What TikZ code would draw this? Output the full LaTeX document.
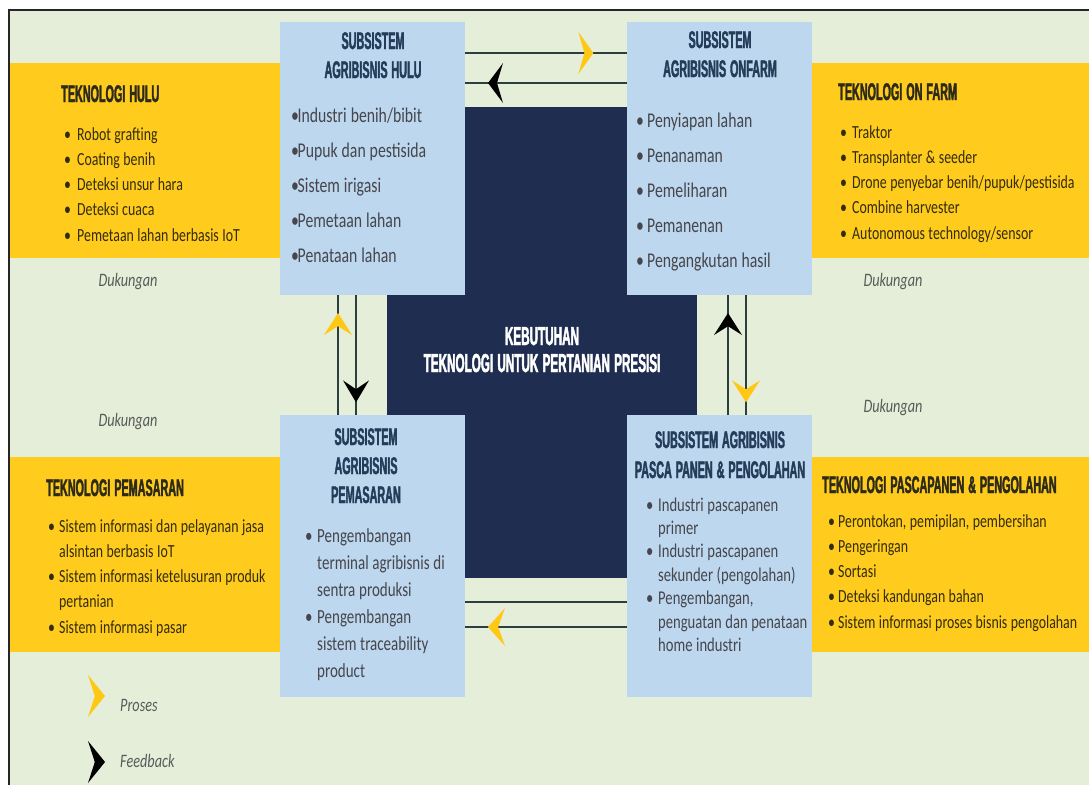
\documentclass[tikz,border=0pt]{standalone}
\usepackage{fontspec}
\setmainfont[FakeStretch=0.75,WordSpace={1.1,0,0}]{Carlito}
\newfontfamily\headfont[FakeStretch=0.45,WordSpace={1.3,0,0},BoldFeatures={FakeBold=1.6}]{Liberation Sans}
\usetikzlibrary{decorations.markings}

\definecolor{bgcol}{RGB}{229,238,217}
\definecolor{yel}{RGB}{255,204,30}
\definecolor{blu}{RGB}{189,215,238}
\definecolor{navy}{RGB}{31,45,80}
\definecolor{linecol}{RGB}{44,62,62}
\definecolor{headB}{RGB}{36,60,88}
\definecolor{headY}{RGB}{45,42,25}
\definecolor{txtB}{RGB}{70,70,76}
\definecolor{txtY}{RGB}{52,44,12}
\definecolor{dukcol}{RGB}{90,90,90}
\definecolor{procyel}{RGB}{255,200,20}

\setlength\parskip{0pt}
\setlength\parindent{0pt}
\hyphenpenalty=10000
\exhyphenpenalty=10000
\newlength\bulind
% one bullet item with a hanging indent
\newcommand\itm[1]{\hangindent=\bulind\hangafter=1\noindent\makebox[\bulind][l]{\textbullet}#1\par}
% chevron-shaped arrow mark, tip at the origin pointing along +x
\newcommand\chevron[3]{\fill[#1] (0,0) -- (-#2,#3) -- ({-0.6*#2},0) -- (-#2,-#3) -- cycle;}

\tikzset{
  ybox/.style={fill=yel, inner sep=0pt, anchor=north west},
  bbox/.style={fill=blu, inner sep=0pt, anchor=north west},
  hdY/.style={font=\headfont\bfseries\fontsize{24}{29}\selectfont, text=headY, inner sep=0pt, anchor=base west},
  hdB/.style={font=\headfont\bfseries\fontsize{24}{29}\selectfont, text=headB, inner sep=0pt, anchor=base, align=flush center, text width=200pt},
  listY/.style={font=\fontsize{18.5}{25.3}\selectfont, text=txtY, inner sep=0pt, anchor=base west, text width=260pt, align=flush left},
  listB/.style={text=txtB, inner sep=0pt, anchor=base west, text width=180pt, align=flush left},
  duk/.style={font=\itshape\fontsize{19}{22}\selectfont, text=dukcol, inner sep=0pt},
  link/.style={draw=linecol, line width=2.6pt},
  chev/.style n args={4}{postaction={decorate,decoration={markings,mark=at position #1 with {\chevron{#2}{#3}{#4}}}}},
  frame/.style={draw=black!85, line width=2.2pt}
}

\begin{document}
\begin{tikzpicture}[x=1pt,y=-1pt]
\useasboundingbox (0,0) rectangle (1089,785);
\fill[white] (0,0) rectangle (1089,785);
\fill[bgcol] (9,10) rectangle (1089,785);

% technology panels
\node[ybox, minimum width=270pt, minimum height=195pt] (huluT) at (10,63) {};
\node[ybox, minimum width=277pt, minimum height=195pt] (onfarmT) at (812,63) {};
\node[ybox, minimum width=270pt, minimum height=195pt] (pemT) at (10,457) {};
\node[ybox, minimum width=277pt, minimum height=195pt] (pascaT) at (812,457) {};

% central block
\node[fill=navy, inner sep=0pt, anchor=north west, minimum width=310pt, minimum height=471pt] (core) at (387,107) {};

% subsystem panels
\node[bbox, minimum width=185pt, minimum height=273pt] (huluS) at (280,22) {};
\node[bbox, minimum width=185pt, minimum height=273pt] (onfarmS) at (627,22) {};
\node[bbox, minimum width=185pt, minimum height=282pt] (pemS) at (280,415) {};
\node[bbox, minimum width=185pt, minimum height=282pt] (pascaS) at (627,415) {};

% process / feedback connectors
\draw[link, chev={128pt}{procyel}{15}{21}] (huluS.east |- 0,53) -- (onfarmS.west |- 0,53);
\draw[link, chev={139pt}{black}{15}{20}] (onfarmS.west |- 0,83) -- (huluS.east |- 0,83);
\draw[link, chev={102pt}{procyel}{22}{14}] (338,0 |- pemS.north) -- (338,0 |- huluS.south);
\draw[link, chev={107pt}{black}{22}{13}] (356,0 |- huluS.south) -- (356,0 |- pemS.north);
\draw[link, chev={102pt}{black}{22}{14}] (728,0 |- pascaS.north) -- (728,0 |- onfarmS.south);
\draw[link, chev={107pt}{procyel}{22}{14}] (746,0 |- onfarmS.south) -- (746,0 |- pascaS.north);
\draw[link] (pemS.east |- 0,602) -- (pascaS.west |- 0,602);
\draw[link, chev={139pt}{procyel}{17}{19}] (pascaS.west |- 0,627) -- (pemS.east |- 0,627);

% frame
\draw[frame] (9,785) -- (9,10) -- (1089,10);

% central title
\node[font=\headfont\bfseries\fontsize{26}{27}\selectfont, text=white, inner sep=0pt, anchor=base, align=flush center, text width=300pt] (coreT) at (542,345)
  {KEBUTUHAN\\TEKNOLOGI UNTUK PERTANIAN PRESISI};

% Teknologi Hulu
\node[hdY] (huluTh) at (61,102) {TEKNOLOGI HULU};
\node[listY] (huluTl) at (64,140) {\setlength\bulind{13pt}%
  \itm{Robot grafting}\itm{Coating benih}\itm{Deteksi unsur hara}\itm{Deteksi cuaca}\itm{Pemetaan lahan berbasis IoT}};

% Teknologi On Farm
\node[hdY] (onfarmTh) at (838,100) {TEKNOLOGI ON FARM};
\node[listY] (onfarmTl) at (840,138) {\setlength\bulind{12pt}%
  \itm{Traktor}\itm{Transplanter \& seeder}\itm{Drone penyebar benih/pupuk/pestisida}\itm{Combine harvester}\itm{Autonomous technology/sensor}};

% Teknologi Pemasaran
\node[hdY] (pemTh) at (46,496) {TEKNOLOGI PEMASARAN};
\node[listY] (pemTl) at (48,532) {\setlength\bulind{11pt}%
  \itm{Sistem informasi dan pelayanan jasa\newline alsintan berbasis IoT}\itm{Sistem informasi ketelusuran produk\newline pertanian}\itm{Sistem informasi pasar}};

% Teknologi Pascapanen
\node[hdY] (pascaTh) at (822,493) {TEKNOLOGI PASCAPANEN \& PENGOLAHAN};
\node[listY] (pascaTl) at (828,527) {\setlength\bulind{10pt}%
  \itm{Perontokan, pemipilan, pembersihan}\itm{Pengeringan}\itm{Sortasi}\itm{Deteksi kandungan bahan}\itm{Sistem informasi proses bisnis pengolahan}};

% Subsistem Hulu
\node[hdB] (huluSh) at (373,49) {SUBSISTEM\\AGRIBISNIS HULU};
\node[listB, font=\fontsize{21}{35}\selectfont] (huluSl) at (291,122) {\setlength\bulind{6.5pt}%
  \itm{Industri benih/bibit}\itm{Pupuk dan pestisida}\itm{Sistem irigasi}\itm{Pemetaan lahan}\itm{Penataan lahan}};

% Subsistem On Farm
\node[hdB] (onfarmSh) at (720,48) {SUBSISTEM\\AGRIBISNIS ONFARM};
\node[listB, font=\fontsize{21}{35}\selectfont] (onfarmSl) at (636,127) {\setlength\bulind{11pt}%
  \itm{Penyiapan lahan}\itm{Penanaman}\itm{Pemeliharan}\itm{Pemanenan}\itm{Pengangkutan hasil}};

% Subsistem Pemasaran
\node[hdB] (pemSh) at (366,445) {SUBSISTEM\\AGRIBISNIS\\PEMASARAN};
\node[listB, font=\fontsize{20}{27}\selectfont] (pemSl) at (305,542) {\setlength\bulind{12pt}%
  \itm{Pengembangan\newline terminal agribisnis di\newline sentra produksi}\itm{Pengembangan\newline sistem traceability\newline product}};

% Subsistem Pasca Panen
\node[hdB, font=\headfont\bfseries\fontsize{24}{30}\selectfont] (pascaSh) at (720,448) {SUBSISTEM AGRIBISNIS\\PASCA PANEN \& PENGOLAHAN};
\node[listB, font=\fontsize{19.5}{23.4}\selectfont] (pascaSl) at (646,511) {\setlength\bulind{12pt}%
  \itm{Industri pascapanen\newline primer}\itm{Industri pascapanen\newline sekunder (pengolahan)}\itm{Pengembangan,\newline penguatan dan penataan\newline home industri}};

% support labels
\node[duk] (duk1) at (128,282) {Dukungan};
\node[duk] (duk2) at (893,282) {Dukungan};
\node[duk] (duk3) at (128,422) {Dukungan};
\node[duk] (duk4) at (893,408) {Dukungan};

% legend
\begin{scope}[shift={(105,696)}]\chevron{procyel}{17}{21}\end{scope}
\begin{scope}[shift={(105,762)}]\chevron{black}{17}{21}\end{scope}
\node[duk, anchor=west] (legP) at (120,705) {Proses};
\node[duk, anchor=west] (legF) at (120,761) {Feedback};
\end{tikzpicture}
\end{document}
